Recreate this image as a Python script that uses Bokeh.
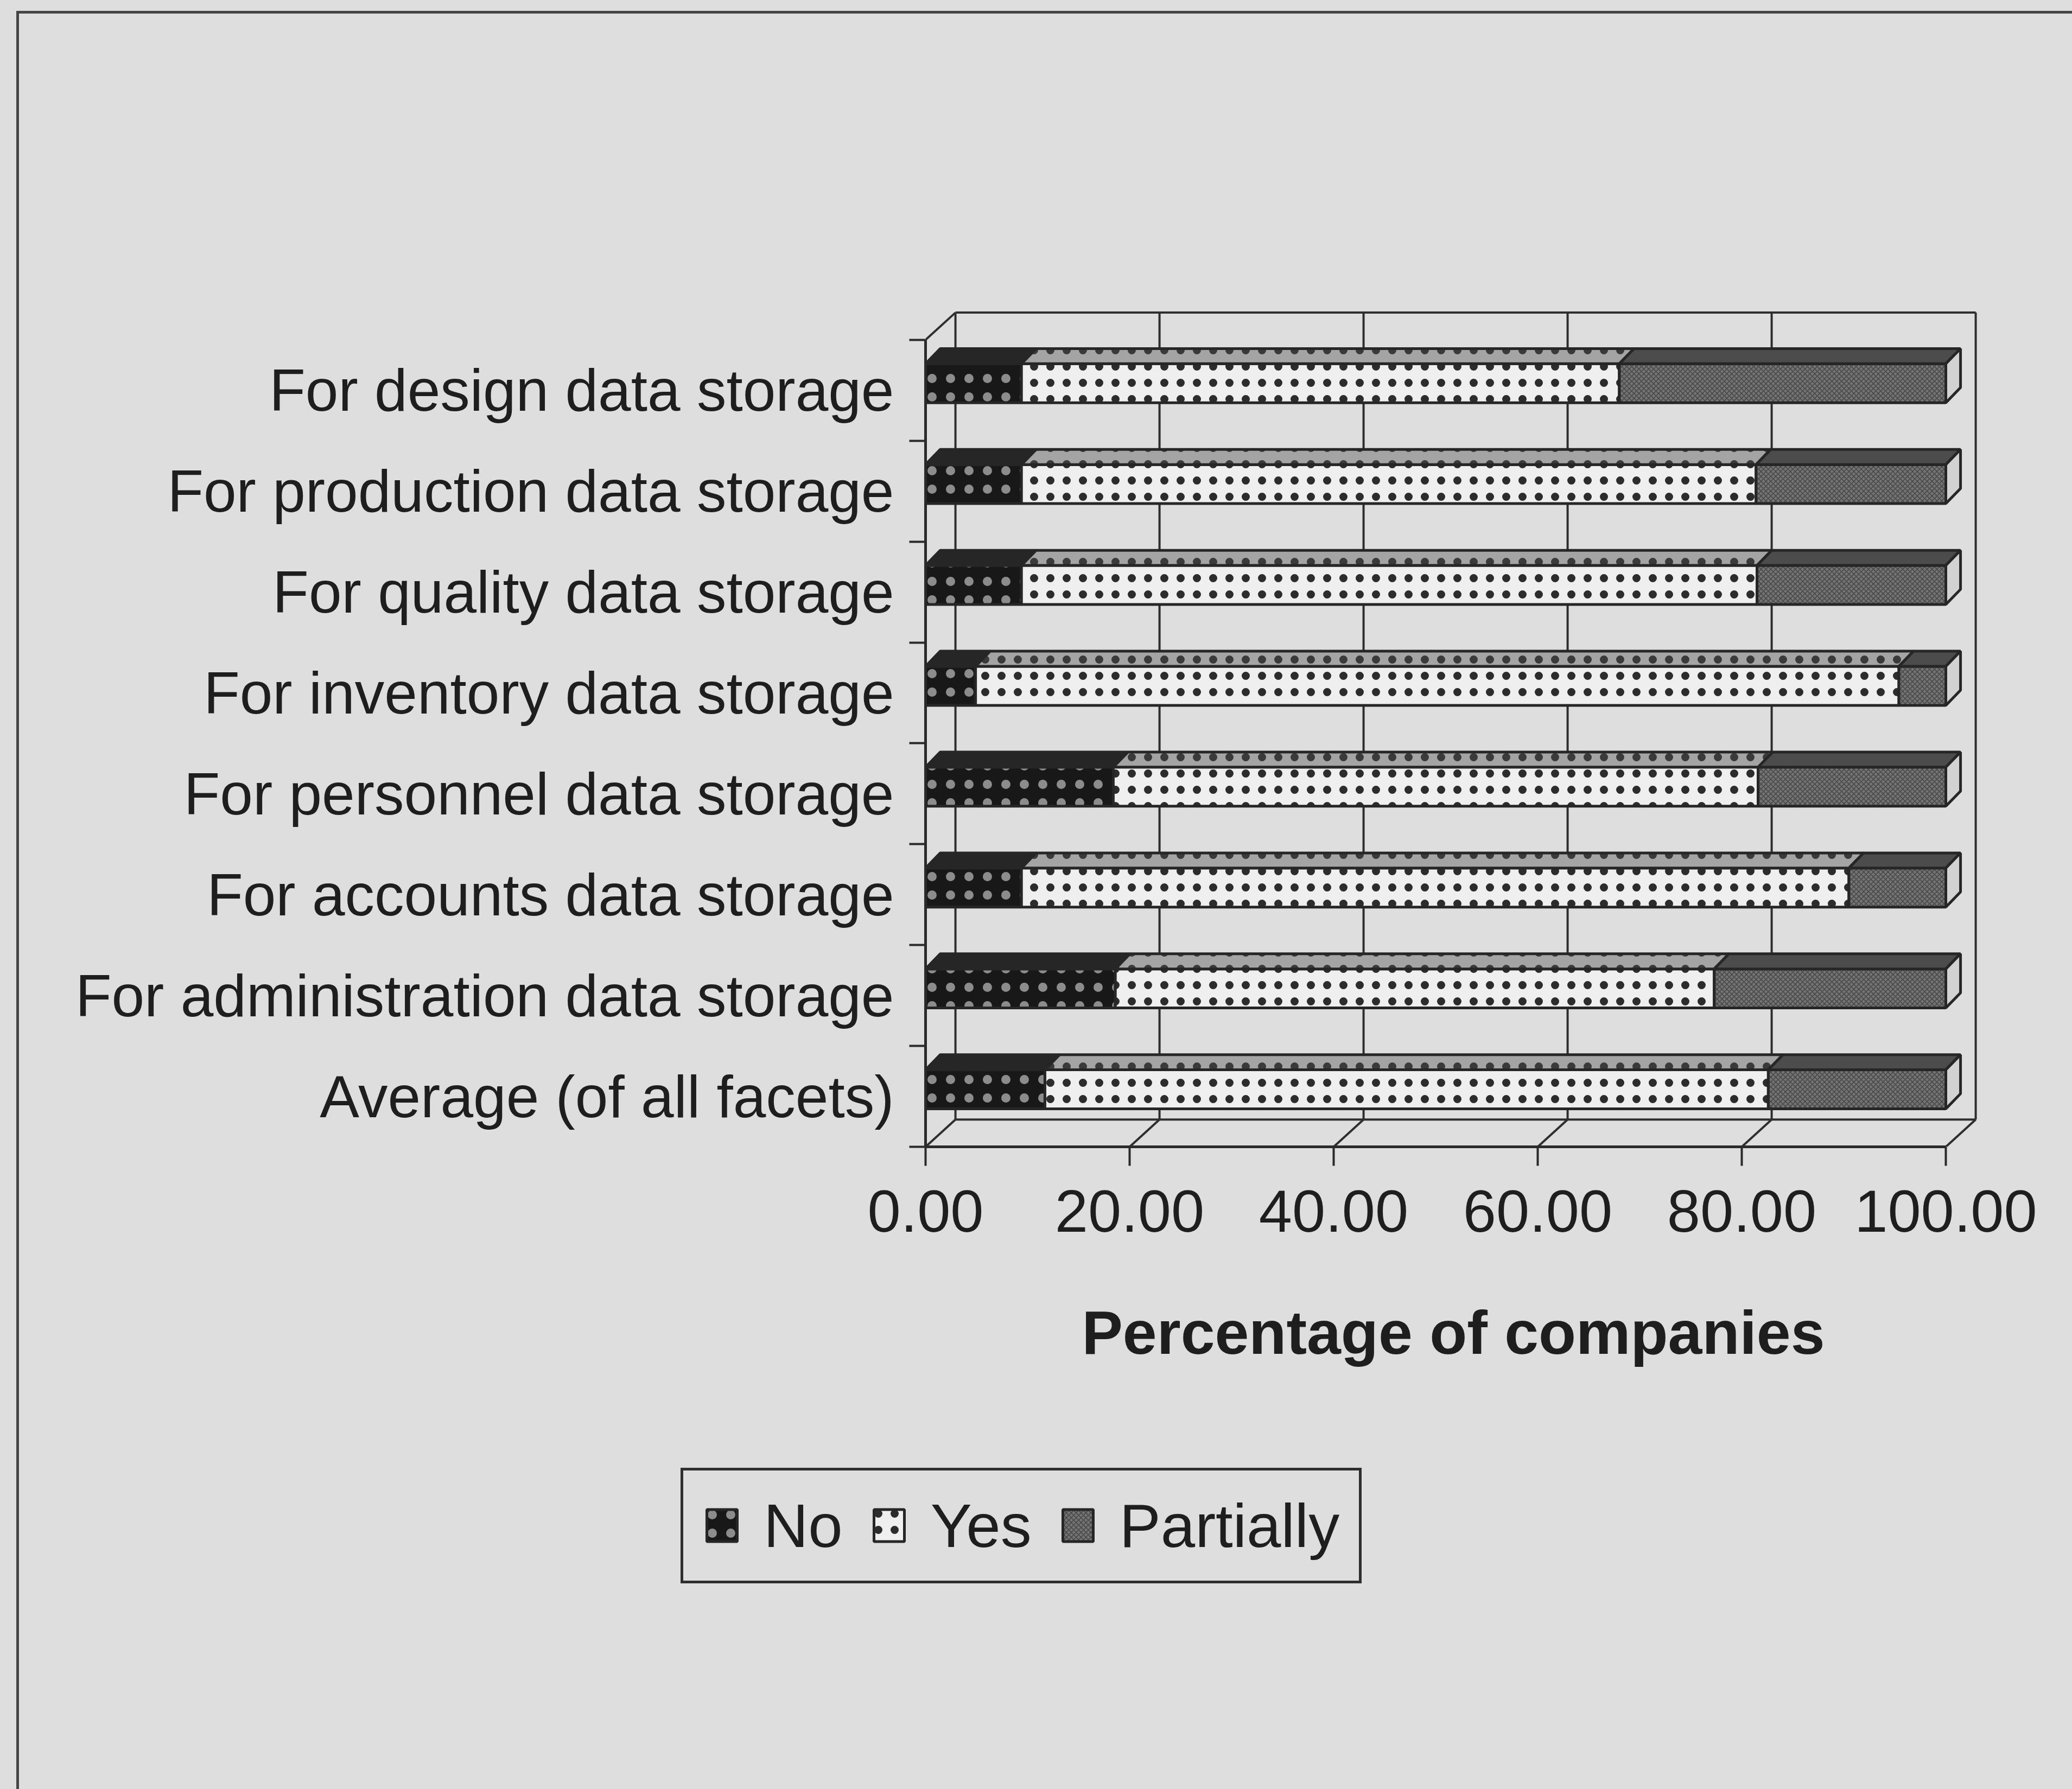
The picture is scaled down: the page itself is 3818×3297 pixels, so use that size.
from bokeh.plotting import figure
from bokeh.models import (ColumnDataSource, Range1d, FixedTicker, NumeralTickFormatter,
                          Legend, LegendItem)
from bokeh.embed import file_html
from bokeh.resources import INLINE

# ---------------- data ----------------
categories = [
    "For design data storage",
    "For production data storage",
    "For quality data storage",
    "For inventory data storage",
    "For personnel data storage",
    "For accounts data storage",
    "For administration data storage",
    "Average (of all facets)",
]
no_vals = [9.4, 9.4, 9.4, 4.9, 18.4, 9.4, 18.6, 11.7]
yes_vals = [58.6, 72.0, 72.1, 90.5, 63.2, 81.1, 58.7, 70.9]
partial_vals = [32.0, 18.6, 18.5, 4.6, 18.4, 9.5, 22.7, 17.4]
series = ["No", "Yes", "Partially"]
x_ticks = [0, 20, 40, 60, 80, 100]
x_title = "Percentage of companies"

# ---------------- style / geometry ----------------
BG = "#dedede"
INK = "#1e1e1e"
FONT = "Liberation Sans"
FRAME_W = 1945
X_END = FRAME_W / 18.8
Y_END = 8.354
WDX, WDY = 2.93, 0.27      # wall depth (data units)
BDX, BDY = 1.44, 0.15      # bar depth
BH, BOFF = 0.387, 0.07     # bar face height, vertical shift
n = len(categories)
pos = [n - i - 0.5 for i in range(n)]

p = figure(frame_width=FRAME_W, frame_height=1553,
           min_border_left=1705, min_border_top=560,
           min_border_right=3818 - 1705 - FRAME_W, min_border_bottom=1184,
           x_range=Range1d(0, X_END), y_range=Range1d(0, Y_END),
           output_backend="svg", toolbar_location=None,
           background_fill_color=BG, border_fill_color=BG, border_fill_alpha=0.0,
           outline_line_color=None)
p.styles = {
    "background": ("linear-gradient(#454545,#454545) 30px 20px / 5px 100% no-repeat, "
                   "linear-gradient(#454545,#454545) 30px 20px / 100% 5px no-repeat, " + BG),
}
p.xgrid.visible = False
p.ygrid.visible = False

# ---------------- 3D walls ----------------
wall_kw = dict(line_color="#2e2e2e", line_width=4)
top_wall = n + WDY
p.segment(x0=[t + WDX for t in x_ticks], y0=[WDY] * len(x_ticks),
          x1=[t + WDX for t in x_ticks], y1=[top_wall] * len(x_ticks), **wall_kw)
p.segment(x0=[WDX, WDX, 0], y0=[top_wall, WDY, n],
          x1=[x_ticks[-1] + WDX, x_ticks[-1] + WDX, WDX], y1=[top_wall, WDY, top_wall], **wall_kw)
p.segment(x0=x_ticks, y0=[0] * len(x_ticks),
          x1=[t + WDX for t in x_ticks], y1=[WDY] * len(x_ticks), **wall_kw)

# ---------------- bars ----------------
seg_vals = [no_vals, yes_vals, partial_vals]
front_style = [
    dict(fill_color="#181818", hatch_pattern="dot", hatch_color="#8c8c8c", hatch_scale=34, hatch_weight=4),
    dict(fill_color="#efefef", hatch_pattern="dot", hatch_color="#2c2c2c", hatch_scale=30, hatch_weight=3.5),
    dict(fill_color="#747474", hatch_pattern="diagonal_cross", hatch_color="#444444", hatch_scale=9, hatch_weight=1.5),
]
top_style = [
    dict(fill_color="#262626"),
    dict(fill_color="#a4a4a4", hatch_pattern="dot", hatch_color="#3a3a3a", hatch_scale=30, hatch_weight=3.5),
    dict(fill_color="#4c4c4c"),
]
outline = dict(line_color="#262626", line_width=5)

renderers = []
cum = [0.0] * n
for k, vals in enumerate(seg_vals):
    left = cum[:]
    right = [a + b for a, b in zip(cum, vals)]
    yc = [q + BOFF for q in pos]
    src = ColumnDataSource(dict(y=yc, left=left, right=right))
    r = p.hbar(y="y", left="left", right="right", height=BH, source=src,
               **front_style[k], **outline)
    renderers.append(r)
    yt = [q + BOFF + BH / 2 for q in pos]
    xs = [[a, b, b + BDX, a + BDX] for a, b in zip(left, right)]
    ys = [[t, t, t + BDY, t + BDY] for t in yt]
    p.patches(xs=xs, ys=ys, **top_style[k], **outline)
    cum = right

yb = [q + BOFF - BH / 2 for q in pos]
yt = [q + BOFF + BH / 2 for q in pos]
cap_xs = [[e, e + BDX, e + BDX, e] for e in cum]
cap_ys = [[b, b + BDY, t + BDY, t] for b, t in zip(yb, yt)]
p.patches(xs=cap_xs, ys=cap_ys, fill_color="#d2d2d2", **outline)

# ---------------- axes ----------------
xa = p.xaxis[0]
xa.ticker = FixedTicker(ticks=x_ticks)
xa.formatter = NumeralTickFormatter(format="0.00")
xa.bounds = (0, 100)
xa.axis_line_color = "#2a2a2a"
xa.axis_line_width = 5
xa.major_tick_out = 35
xa.major_tick_in = 0
xa.major_tick_line_color = "#2a2a2a"
xa.major_tick_line_width = 4
xa.minor_tick_line_color = None
xa.major_label_standoff = 45
xa.major_label_text_font = FONT
xa.major_label_text_font_size = "110px"
xa.major_label_text_color = INK
xa.axis_label = x_title
xa.axis_label_text_font = FONT
xa.axis_label_text_font_size = "113px"
xa.axis_label_text_font_style = "bold"
xa.axis_label_text_color = INK
xa.axis_label_standoff = 120

ya = p.yaxis[0]
ya.ticker = FixedTicker(ticks=pos, minor_ticks=list(range(n + 1)))
ya.major_label_overrides = {q: c for q, c in zip(pos, categories)}
ya.bounds = (0, n)
ya.axis_line_color = "#2a2a2a"
ya.axis_line_width = 5
ya.major_tick_out = 0
ya.major_tick_in = 0
ya.major_tick_line_color = None
ya.minor_tick_out = 30
ya.minor_tick_in = 0
ya.minor_tick_line_color = "#2a2a2a"
ya.minor_tick_line_width = 4
ya.major_label_standoff = 28
ya.major_label_text_font = FONT
ya.major_label_text_font_size = "109px"
ya.major_label_text_color = INK

# ---------------- legend ----------------
legend = Legend(items=[LegendItem(label=s, renderers=[r]) for s, r in zip(series, renderers)],
                orientation="horizontal", location=(-451, 467), margin=0,
                label_text_font=FONT, label_text_font_size="114px", label_text_color=INK,
                glyph_width=70, glyph_height=74, label_standoff=42, spacing=50,
                padding=36, label_height=110,
                background_fill_color=BG, background_fill_alpha=1.0,
                border_line_color="#2e2e2e", border_line_width=5, border_line_alpha=1.0)
p.add_layout(legend, "below")

open("out.html", "w").write(file_html(p, INLINE))
